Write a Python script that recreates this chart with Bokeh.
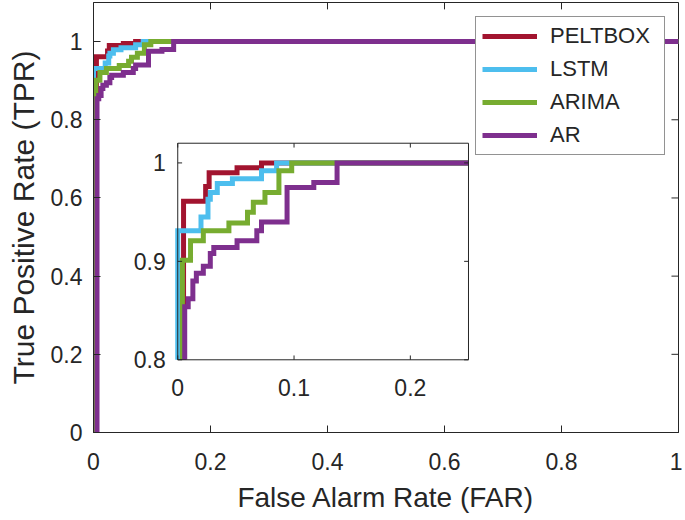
from bokeh.plotting import figure
from bokeh.models import Range1d, FixedTicker, Legend, LegendItem
from bokeh.core.properties import value
from bokeh.embed import file_html
from bokeh.resources import INLINE

# ---------------- data ----------------
series_names = ["PELTBOX", "LSTM", "ARIMA", "AR"]
colors = ["#A2142F", "#4DBEEE", "#77AC30", "#7E2F8E"]

peltbox_far = [0.005, 0.005, 0.024, 0.024, 0.027, 0.027, 0.051, 0.051, 0.072, 0.072, 1.0]
peltbox_tpr = [0.0, 0.961, 0.961, 0.976, 0.976, 0.990, 0.990, 0.995, 0.995, 1.0, 1.0]

lstm_far = [0.0, 0.0, 0.020, 0.020, 0.026, 0.026, 0.028, 0.028, 0.034, 0.034, 0.047, 0.047,
            0.072, 0.072, 0.085, 0.085, 1.0]
lstm_tpr = [0.0, 0.931, 0.931, 0.945, 0.945, 0.963, 0.963, 0.970, 0.970, 0.979, 0.979, 0.984,
            0.984, 0.992, 0.992, 1.0, 1.0]

arima_far = [0.004, 0.004, 0.011, 0.011, 0.022, 0.022, 0.044, 0.044, 0.060, 0.060, 0.065, 0.065,
             0.075, 0.075, 0.087, 0.087, 0.098, 0.098, 1.0]
arima_tpr = [0.0, 0.901, 0.901, 0.921, 0.921, 0.931, 0.931, 0.939, 0.939, 0.950, 0.950, 0.960,
             0.960, 0.970, 0.970, 0.992, 0.992, 1.0, 1.0]

ar_far = [0.006, 0.006, 0.009, 0.009, 0.013, 0.013, 0.016, 0.016, 0.022, 0.022, 0.028, 0.028,
          0.031, 0.031, 0.051, 0.051, 0.068, 0.068, 0.072, 0.072, 0.094, 0.094, 0.117, 0.117,
          0.137, 0.137, 1.0]
ar_tpr = [0.0, 0.854, 0.854, 0.862, 0.862, 0.880, 0.880, 0.888, 0.888, 0.895, 0.895, 0.908,
          0.908, 0.914, 0.914, 0.921, 0.921, 0.931, 0.931, 0.940, 0.940, 0.975, 0.975, 0.980,
          0.980, 1.0, 1.0]

main_x_range = (0.0, 1.0)
main_y_range = (0.0, 1.1)
main_x_ticks = [0, 0.2, 0.4, 0.6, 0.8, 1]
main_x_labels = ["0", "0.2", "0.4", "0.6", "0.8", "1"]
main_y_ticks = [0, 0.2, 0.4, 0.6, 0.8, 1]
main_y_labels = ["0", "0.2", "0.4", "0.6", "0.8", "1"]

inset_x_range = (0.0, 0.25)
inset_y_range = (0.8, 1.02)
inset_x_ticks = [0, 0.1, 0.2]
inset_x_labels = ["0", "0.1", "0.2"]
inset_y_ticks = [0.8, 0.9, 1]
inset_y_labels = ["0.8", "0.9", "1"]

all_far = [peltbox_far, lstm_far, arima_far, ar_far]
all_tpr = [peltbox_tpr, lstm_tpr, arima_tpr, ar_tpr]

# ---------------- style ----------------
FONT = "Liberation Sans"
INK = "#262626"
LW = 5

p = figure(width=682, height=520,
           x_range=Range1d(*main_x_range), y_range=Range1d(*main_y_range),
           output_backend="svg", toolbar_location=None,
           min_border_left=93, min_border_right=4, min_border_top=2, min_border_bottom=88)
p.xgrid.visible = False
p.ygrid.visible = False
p.outline_line_color = INK
p.outline_line_width = 1
p.background_fill_color = "white"
p.border_fill_color = "white"

def style_axis(ax, ticks, labels, standoff):
    ax.ticker = FixedTicker(ticks=ticks)
    ax.major_label_overrides = {t: l for t, l in zip(ticks, labels)}
    ax.major_tick_in = 7
    ax.major_tick_out = 0
    ax.minor_tick_in = 0
    ax.minor_tick_out = 0
    ax.axis_line_color = INK
    ax.major_tick_line_color = INK
    ax.major_label_text_font = FONT
    ax.major_label_text_font_size = "23px"
    ax.major_label_text_color = INK
    ax.major_label_standoff = standoff
    ax.axis_label_text_font = FONT
    ax.axis_label_text_font_style = "normal"
    ax.axis_label_text_color = INK

style_axis(p.xaxis[0], main_x_ticks, main_x_labels, 20)
style_axis(p.yaxis[0], main_y_ticks, main_y_labels, 11)
p.xaxis[0].axis_label = "False Alarm Rate (FAR)"
p.xaxis[0].axis_label_text_font_size = "28px"
p.xaxis[0].axis_label_standoff = 9
p.yaxis[0].axis_label = "True Positive Rate (TPR)"
p.yaxis[0].axis_label_text_font_size = "30px"
p.yaxis[0].axis_label_standoff = 8

# inward ticks on the top and right edges of the main box
mx0, mx1 = main_x_range
my0, my1 = main_y_range
tk_v = 0.016 * (my1 - my0)
tk_h = 0.012 * (mx1 - mx0)
p.segment(x0=main_x_ticks, y0=[my1] * len(main_x_ticks), x1=main_x_ticks,
          y1=[my1 - tk_v] * len(main_x_ticks), line_color=INK, line_width=1)
p.segment(x0=[mx1] * len(main_y_ticks), y0=main_y_ticks, x1=[mx1 - tk_h] * len(main_y_ticks),
          y1=main_y_ticks, line_color=INK, line_width=1)

# main curves
renderers = []
for far, tpr, c in zip(all_far, all_tpr, colors):
    r = p.line(far, tpr, line_color=c, line_width=LW, line_join="miter")
    renderers.append(r)

legend = Legend(items=[LegendItem(label=n, renderers=[r]) for n, r in zip(series_names, renderers)],
                location=(382, 277),
                label_text_font=FONT, label_text_font_size="22px", label_text_color=INK,
                glyph_width=55, glyph_height=26, label_height=26, label_width=108,
                label_standoff=13, spacing=7, padding=6, margin=0,
                border_line_color=INK, border_line_width=1, background_fill_alpha=1)
p.add_layout(legend, "center")

# ---------------- inset ----------------
inset = p.subplot(x_source=Range1d(*inset_x_range), y_source=Range1d(*inset_y_range),
                  x_target=Range1d(0.144, 0.641), y_target=Range1d(0.186, 0.740))
x0, x1 = inset_x_range
y0, y1 = inset_y_range
inset.quad(left=[x0], right=[x1], bottom=[y0], top=[y1], fill_color="white", line_color=None)

for far, tpr, c in zip(all_far, all_tpr, colors):
    fx = [min(max(v, x0), x1) for v in far]
    fy = [min(max(v, y0), y1) for v in tpr]
    inset.line(fx, fy, line_color=c, line_width=LW, line_join="miter")

inset.quad(left=[x0], right=[x1], bottom=[y0], top=[y1], fill_color=None,
           line_color=INK, line_width=1)

tlx = 0.02 * (y1 - y0)
tly = 0.015 * (x1 - x0)
inset.segment(x0=inset_x_ticks, y0=[y0] * 3, x1=inset_x_ticks, y1=[y0 + tlx] * 3,
              line_color=INK, line_width=1)
inset.segment(x0=inset_x_ticks, y0=[y1] * 3, x1=inset_x_ticks, y1=[y1 - tlx] * 3,
              line_color=INK, line_width=1)
inset.segment(x0=[x0] * 3, y0=inset_y_ticks, x1=[x0 + tly] * 3, y1=inset_y_ticks,
              line_color=INK, line_width=1)
inset.segment(x0=[x1] * 3, y0=inset_y_ticks, x1=[x1 - tly] * 3, y1=inset_y_ticks,
              line_color=INK, line_width=1)

inset.text(x=inset_x_ticks, y=[y0] * 3, text=inset_x_labels, y_offset=19,
           text_align="center", text_baseline="top", text_font=value(FONT),
           text_font_size="23px", text_color=INK)
inset.text(x=[x0] * 3, y=inset_y_ticks, text=inset_y_labels, x_offset=-12,
           text_align="right", text_baseline="middle", text_font=value(FONT),
           text_font_size="23px", text_color=INK)

open("out.html", "w").write(file_html(p, INLINE))
